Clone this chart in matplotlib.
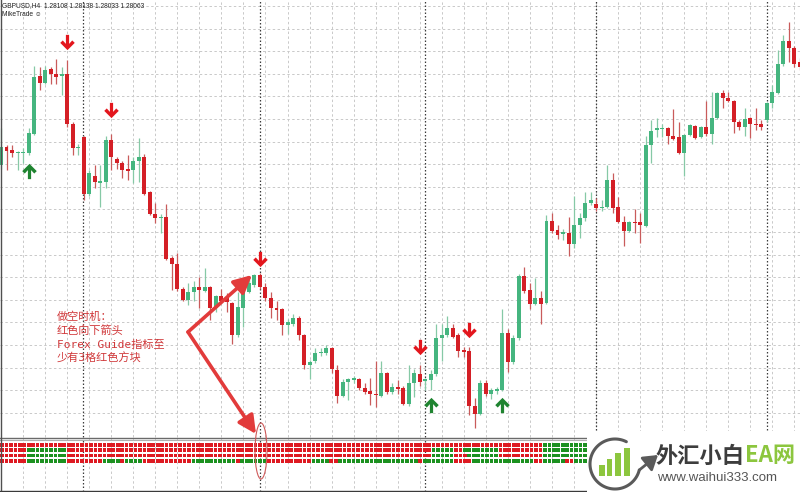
import numpy as np
import matplotlib
matplotlib.use('Agg')
import matplotlib.pyplot as plt
from matplotlib.path import Path
from matplotlib.patches import Rectangle, Ellipse

# ---------------- data ----------------
symbol = 'GBPUSD,H4'
indicator_name = 'MikeTrade ☺'

open_ = [1.2719, 1.2735, 1.2733, 1.2730, 1.2730, 1.2730, 1.2747, 1.2798, 1.2792, 1.2804,
         1.2800, 1.2798, 1.2800, 1.2756, 1.2734, 1.2744, 1.2694, 1.2710, 1.2703, 1.2704,
         1.2741, 1.2725, 1.2721, 1.2716, 1.2715, 1.2723, 1.2726, 1.2695, 1.2676, 1.2672,
         1.2673, 1.2637, 1.2632, 1.2610, 1.2600, 1.2607, 1.2611, 1.2608, 1.2611, 1.2593,
         1.2603, 1.2602, 1.2597, 1.2569, 1.2593, 1.2607, 1.2613, 1.2622, 1.2611, 1.2602,
         1.2593, 1.2592, 1.2578, 1.2579, 1.2584, 1.2569, 1.2542, 1.2546, 1.2553, 1.2553,
         1.2557, 1.2538, 1.2515, 1.2527, 1.2529, 1.2530, 1.2522, 1.2519, 1.2517, 1.2515,
         1.2535, 1.2518, 1.2523, 1.2522, 1.2508, 1.2526, 1.2534, 1.2528, 1.2529, 1.2534,
         1.2566, 1.2569, 1.2575, 1.2569, 1.2556, 1.2555, 1.2506, 1.2499, 1.2526, 1.2517,
         1.2519, 1.2520, 1.2571, 1.2545, 1.2566, 1.2621, 1.2609, 1.2596, 1.2602, 1.2597,
         1.2670, 1.2662, 1.2658, 1.2659, 1.2649, 1.2666, 1.2672, 1.2686, 1.2685, 1.2681,
         1.2682, 1.2706, 1.2682, 1.2669, 1.2661, 1.2669, 1.2669, 1.2665, 1.2737, 1.2750,
         1.2751, 1.2752, 1.2745, 1.2744, 1.2730, 1.2746, 1.2754, 1.2744, 1.2753, 1.2747,
         1.2761, 1.2783, 1.2779, 1.2776, 1.2757, 1.2753, 1.2761, 1.2756, 1.2756, 1.2759,
         1.2774, 1.2783, 1.2809, 1.2829, 1.2823, 1.28108]
high = [1.2752, 1.2737, 1.2737, 1.2732, 1.2734, 1.2752, 1.2807, 1.2806, 1.2807, 1.2806,
        1.2813, 1.2806, 1.2812, 1.2757, 1.2738, 1.2745, 1.2715, 1.2719, 1.2719, 1.2745,
        1.2747, 1.2726, 1.2723, 1.2728, 1.2726, 1.2743, 1.2729, 1.2696, 1.2686, 1.2676,
        1.2685, 1.2639, 1.2641, 1.2611, 1.2615, 1.2617, 1.2620, 1.2628, 1.2612, 1.2604,
        1.2610, 1.2606, 1.2598, 1.2607, 1.2610, 1.2619, 1.2623, 1.2624, 1.2615, 1.2607,
        1.2599, 1.2593, 1.2583, 1.2587, 1.2586, 1.2570, 1.2547, 1.2557, 1.2557, 1.2560,
        1.2558, 1.2542, 1.2530, 1.2531, 1.2533, 1.2531, 1.2526, 1.2531, 1.2546, 1.2546,
        1.2536, 1.2526, 1.2529, 1.2524, 1.2542, 1.2539, 1.2542, 1.2531, 1.2538, 1.2579,
        1.2579, 1.2586, 1.2579, 1.2571, 1.2558, 1.2558, 1.2513, 1.2529, 1.2529, 1.2522,
        1.2523, 1.2592, 1.2574, 1.2569, 1.2623, 1.2629, 1.2615, 1.2619, 1.2608, 1.2675,
        1.2677, 1.2666, 1.2663, 1.2673, 1.2692, 1.2677, 1.2695, 1.2695, 1.2690, 1.2688,
        1.2719, 1.2712, 1.2691, 1.2674, 1.2670, 1.2680, 1.2677, 1.2745, 1.2759, 1.2761,
        1.2756, 1.2753, 1.2769, 1.2757, 1.2747, 1.2756, 1.2755, 1.2754, 1.2776, 1.2784,
        1.2784, 1.2786, 1.2784, 1.2777, 1.2759, 1.2770, 1.2762, 1.2770, 1.2759, 1.2775,
        1.2790, 1.2821, 1.2834, 1.2846, 1.2825, 1.28138]
low = [1.2716, 1.2715, 1.2726, 1.2715, 1.2721, 1.2728, 1.2746, 1.2786, 1.2791, 1.2791,
       1.2791, 1.2781, 1.2753, 1.2728, 1.2728, 1.2688, 1.2692, 1.2699, 1.2682, 1.2699,
       1.2715, 1.2716, 1.2708, 1.2706, 1.2703, 1.2704, 1.2693, 1.2675, 1.2668, 1.2659,
       1.2635, 1.2609, 1.2608, 1.2599, 1.2595, 1.2599, 1.2593, 1.2607, 1.2582, 1.2589,
       1.2597, 1.2589, 1.2561, 1.2567, 1.2576, 1.2606, 1.2611, 1.2610, 1.2599, 1.2584,
       1.2582, 1.2569, 1.2570, 1.2577, 1.2564, 1.2539, 1.2530, 1.2544, 1.2550, 1.2551,
       1.2535, 1.2509, 1.2514, 1.2511, 1.2526, 1.2520, 1.2517, 1.2507, 1.2505, 1.2514,
       1.2517, 1.2517, 1.2517, 1.2507, 1.2506, 1.2514, 1.2524, 1.2520, 1.2520, 1.2533,
       1.2546, 1.2567, 1.2566, 1.2549, 1.2549, 1.2498, 1.2487, 1.2498, 1.2515, 1.2512,
       1.2517, 1.2519, 1.2536, 1.2543, 1.2564, 1.2606, 1.2592, 1.2595, 1.2579, 1.2596,
       1.2659, 1.2654, 1.2653, 1.2639, 1.2646, 1.2655, 1.2670, 1.2684, 1.2679, 1.2679,
       1.2681, 1.2677, 1.2668, 1.2648, 1.2660, 1.2659, 1.2650, 1.2664, 1.2721, 1.2744,
       1.2744, 1.2738, 1.2741, 1.2729, 1.2710, 1.2745, 1.2742, 1.2743, 1.2745, 1.2738,
       1.2760, 1.2770, 1.2775, 1.2748, 1.2750, 1.2745, 1.2743, 1.2750, 1.2750, 1.2757,
       1.2770, 1.2782, 1.2807, 1.2810, 1.2806, 1.28033]
close = [1.2735, 1.2732, 1.2730, 1.2731, 1.2731, 1.2748, 1.2797, 1.2792, 1.2803, 1.2800,
         1.2797, 1.2800, 1.2756, 1.2734, 1.2735, 1.2694, 1.2712, 1.2704, 1.2705, 1.2741,
         1.2726, 1.2721, 1.2715, 1.2714, 1.2723, 1.2726, 1.2694, 1.2676, 1.2672, 1.2673,
         1.2636, 1.2632, 1.2610, 1.2600, 1.2607, 1.2611, 1.2609, 1.2611, 1.2593, 1.2603,
         1.2599, 1.2598, 1.2569, 1.2594, 1.2607, 1.2615, 1.2622, 1.2611, 1.2602, 1.2593,
         1.2591, 1.2578, 1.2580, 1.2584, 1.2569, 1.2542, 1.2545, 1.2553, 1.2554, 1.2557,
         1.2539, 1.2515, 1.2527, 1.2530, 1.2531, 1.2522, 1.2518, 1.2517, 1.2516, 1.2535,
         1.2518, 1.2523, 1.2521, 1.2508, 1.2526, 1.2535, 1.2527, 1.2530, 1.2534, 1.2566,
         1.2569, 1.2575, 1.2567, 1.2555, 1.2554, 1.2506, 1.2499, 1.2526, 1.2517, 1.2520,
         1.2521, 1.2571, 1.2545, 1.2566, 1.2621, 1.2608, 1.2596, 1.2602, 1.2596, 1.2670,
         1.2661, 1.2657, 1.2660, 1.2649, 1.2666, 1.2672, 1.2686, 1.2688, 1.2681, 1.2682,
         1.2706, 1.2681, 1.2669, 1.2661, 1.2669, 1.2668, 1.2666, 1.2737, 1.2749, 1.2752,
         1.2752, 1.2745, 1.2742, 1.2730, 1.2746, 1.2755, 1.2743, 1.2753, 1.2747, 1.2761,
         1.2783, 1.2779, 1.2776, 1.2757, 1.2753, 1.2760, 1.2756, 1.2755, 1.2753, 1.2774,
         1.2784, 1.2809, 1.2829, 1.2823, 1.2809, 1.28063]

# signal arrows (bar index, price)
sell_bars = [12, 20, 47, 76, 85]
sell_prices = [1.2828, 1.2768, 1.2636, 1.2558, 1.2573]
buy_bars = [5, 78, 91]
buy_prices = [1.2714, 1.2507, 1.2507]

# period separators (bar positions) and price grid
separator_bars = [14.94, 47.0, 76.95, 107.9, 138.97]
grid_bar_step = 4
price_grid = [1.2500, 1.2520, 1.2540, 1.2560, 1.2580, 1.2600, 1.2620, 1.2640, 1.2660,
              1.2680, 1.2700, 1.2720, 1.2740, 1.2760, 1.2780, 1.2800, 1.2820, 1.2840, 1.2860]

# Forex Guide indicator: 4 rows of red/green blocks (run lengths)
ind_rows = [
    [('R', 122), ('G', 10)],
    [('R', 6), ('G', 9), ('R', 82), ('G', 5), ('R', 2), ('G', 8), ('R', 10), ('G', 10)],
    [('R', 6), ('G', 9), ('R', 82), ('G', 5), ('R', 3), ('G', 7), ('R', 10), ('G', 10)],
    [('R', 6), ('G', 9), ('R', 8), ('G', 4), ('R', 1), ('G', 4), ('R', 11), ('G', 10),
     ('R', 1), ('G', 6), ('R', 10), ('G', 4), ('R', 2), ('G', 18), ('R', 1), ('G', 7),
     ('R', 4), ('G', 14), ('R', 2), ('G', 5), ('R', 2), ('G', 3)],
]

note_lines = ['做空时机：', '红色向下箭头', 'Forex Guide指标至', '少有3格红色方块']
logo_dark = '外汇小白'
logo_green = 'EA网'
logo_url = 'www.waihui333.com'

# ---------------- styling ----------------
W, H = 800, 492
MAIN_H = 437
BULL = '#45b57f'
BEAR = '#d41f26'
BULL_WICK = '#86c9a6'
BEAR_WICK = '#c95b5b'
GRID = '#c9c9c9'
SEP = '#3c3c3c'
ARROW_RED = '#e3161d'
ARROW_GREEN = '#1f8430'
SQ_RED = '#de1a22'
SQ_GREEN = '#1c9120'
NOTE_RED = '#d0383a'
LOGO_GREEN = '#8cc63e'


def px_to_bar(px):
    return (px - 1.0) / 5.51


XMIN, XMAX = px_to_bar(0), px_to_bar(W)

fig = plt.figure(figsize=(W / 100, H / 100), dpi=100)
fig.patch.set_facecolor('white')

# ---------------- main chart ----------------
ax = fig.add_axes([0, 1 - MAIN_H / H, 1, MAIN_H / H])
ax.set_xlim(XMIN, XMAX)
ax.set_ylim(1.24786, 1.28653)
ax.axis('off')

for p in price_grid:
    ax.axhline(p, color=GRID, lw=0.7, ls=(0, (2.5, 2.5)), zorder=0)
n = len(open_)
for b in range(0, n + 1, grid_bar_step):
    ax.axvline(b, color=GRID, lw=0.7, ls=(0, (2.5, 2.5)), zorder=0)
for s in separator_bars:
    ax.axvline(s, color=SEP, lw=0.9, ls=(0, (1.2, 1.6)), zorder=0.5)

x = np.arange(n)
o = np.array(open_)
c = np.array(close)
hi = np.array(high)
lo = np.array(low)
bull = c >= o
body_col = np.where(bull, BULL, BEAR)
wick_col = np.where(bull, BULL_WICK, BEAR_WICK)
ax.vlines(x, lo, hi, colors=wick_col, lw=0.9, zorder=2)
bottom = np.minimum(o, c)
height = np.maximum(np.abs(c - o), 0.00009)
ax.bar(x, height, bottom=bottom, width=0.72, color=body_col, lw=0, zorder=3)

down_path = Path([(0, -1), (0.95, -0.05), (0.62, 0.27), (0.21, -0.18), (0.21, 1),
                  (-0.21, 1), (-0.21, -0.18), (-0.62, 0.27), (-0.95, -0.05), (0, -1)],
                 [Path.MOVETO] + [Path.LINETO] * 8 + [Path.CLOSEPOLY])
up_path = Path([(vx, -vy) for vx, vy in down_path.vertices], down_path.codes)
ax.plot(sell_bars, sell_prices, ls='none', marker=down_path, ms=11, color=ARROW_RED,
        mec=ARROW_RED, mew=0, zorder=5)
ax.plot(buy_bars, buy_prices, ls='none', marker=up_path, ms=11, color=ARROW_GREEN,
        mec=ARROW_GREEN, mew=0, zorder=5)

# ---------------- indicator panel ----------------
ax_i = fig.add_axes([0, 0, 1, (H - MAIN_H) / H])
ax_i.set_xlim(XMIN, XMAX)
ax_i.set_ylim(H, MAIN_H)
ax_i.axis('off')
for b in range(0, n + 1, grid_bar_step):
    ax_i.plot([b, b], [MAIN_H, 490], color=GRID, lw=0.7, ls=(0, (2.5, 2.5)), zorder=0)
for s in separator_bars:
    ax_i.plot([s, s], [MAIN_H, 490], color=SEP, lw=0.9, ls=(0, (1.2, 1.6)), zorder=0.5)
ax_i.plot([XMIN, XMAX], [437.6, 437.6], color='#6a6a6a', lw=1.0, zorder=1)
ax_i.plot([XMIN, XMAX], [439.6, 439.6], color='#b0b0b0', lw=0.8, zorder=1)
ax_i.plot([XMIN, XMAX], [490.5, 490.5], color='#3a3a3a', lw=1.0, zorder=1)

ax_s = fig.add_axes([0, 0, 1, (H - MAIN_H) / H])
ax_s.set_xlim(-2 / 4.45, (W - 2) / 4.45)
ax_s.set_ylim((H - 445) / 5.33, (MAIN_H - 445) / 5.33)
ax_s.axis('off')
ax_s.patch.set_alpha(0)
for r, runs in enumerate(ind_rows):
    cols = []
    for state, cnt in runs:
        cols += [SQ_RED if state == 'R' else SQ_GREEN] * cnt
    ax_s.scatter(np.arange(len(cols)), [r] * len(cols), s=7.0, marker='s', c=cols,
                 linewidths=0, zorder=2)

# ---------------- overlay (annotations, header, logo) ----------------
ov = fig.add_axes([0, 0, 1, 1])
ov.set_xlim(0, W)
ov.set_ylim(H, 0)
ov.axis('off')
ov.patch.set_alpha(0)

ov.plot([0.5, 0.5], [0, 490], color='#505050', lw=1.0)

header = f"{symbol}  {open_[-1]:.5f} {high[-1]:.5f} {low[-1]:.5f} {close[-1]:.5f}"
ov.text(2, 5.5, header, fontsize=4.8, family='Liberation Sans', color='#222222', va='center')
ov.text(2, 14.5, indicator_name, fontsize=4.8, family=['Liberation Sans', 'DejaVu Sans'],
        color='#222222', va='center')

for k, line in enumerate(note_lines):
    ov.text(57, 317 + 13.8 * k, line, fontsize=8, color=NOTE_RED, va='center',
            family=['DejaVu Sans Mono', 'Noto Sans CJK SC'])

apex = (188, 332)
for tip in [(252, 275), (256, 434)]:
    ov.annotate('', xy=tip, xytext=apex,
                arrowprops=dict(arrowstyle='-|>,head_length=0.9,head_width=0.45',
                                lw=2.6, color='#e23b3b', shrinkA=0, shrinkB=0,
                                mutation_scale=12))
ov.add_patch(Ellipse((261, 451), 12, 56, fill=False, ec='#cf5a5a', lw=0.8, zorder=6))

# logo box
ov.add_patch(Rectangle((587, 431), 213, 61, fc='white', ec='none', zorder=8))
cx, cy, rr = 615, 464, 25
t = np.radians(np.linspace(63, 346, 120))
ov.plot(cx + rr * np.cos(t), cy - rr * np.sin(t), color='#5a5a5a', lw=2.2, zorder=9,
        solid_capstyle='round')
ov.annotate('', xy=(658, 455), xytext=(cx + rr * np.cos(t[-1]), cy - rr * np.sin(t[-1])),
            arrowprops=dict(arrowstyle='-|>,head_length=0.7,head_width=0.45', lw=2.0,
                            color='#5a5a5a', shrinkA=0, shrinkB=0, mutation_scale=12),
            zorder=9)
for bx, btop in [(602, 465), (609.5, 459), (618, 453), (627, 448)]:
    ov.add_patch(Rectangle((bx - 2.6, btop), 5.2, 476 - btop, fc=LOGO_GREEN, ec='none',
                           zorder=9))
t1 = ov.text(656, 456, logo_dark, fontsize=16, fontweight='bold', color='#3d3d3d',
             family='Noto Sans CJK SC', va='center', ha='left', zorder=10)
fig.canvas.draw()
bb = t1.get_window_extent()
x_end = bb.x1
ov.text(x_end, 456, logo_green, fontsize=16, fontweight='bold', color=LOGO_GREEN,
        family='Noto Sans CJK SC', va='center', ha='left', zorder=10)
ov.text(657, 478, logo_url, fontsize=9.5, color='#555555', family='Liberation Sans',
        va='center', ha='left', zorder=10)

fig.savefig('out.png', dpi=100, facecolor='white')
